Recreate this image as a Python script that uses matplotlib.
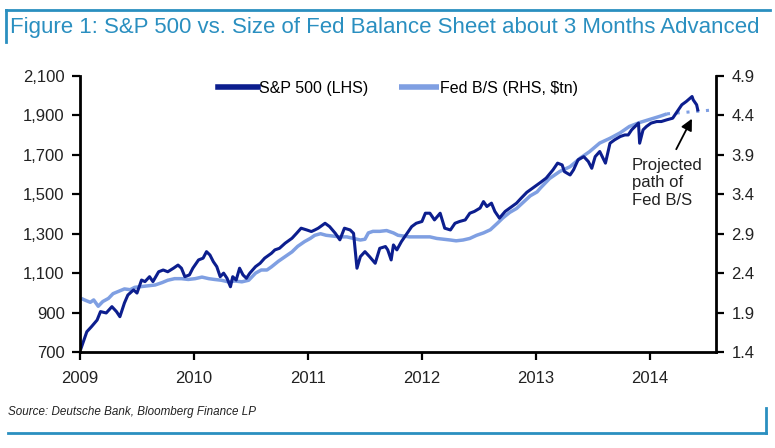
import matplotlib
matplotlib.use("Agg")
import matplotlib.pyplot as plt
from matplotlib.ticker import FuncFormatter, FixedLocator

plt.rcParams['font.family'] = ['Liberation Sans', 'DejaVu Sans']

# S&P 500 (LHS), x in decimal years
sp_x = [2009.01, 2009.06, 2009.10, 2009.15, 2009.18, 2009.23, 2009.28, 2009.32, 2009.35, 2009.39,
        2009.42, 2009.47, 2009.50, 2009.54, 2009.57, 2009.61, 2009.64, 2009.69, 2009.73, 2009.77,
        2009.82, 2009.86, 2009.89, 2009.92, 2009.96, 2009.99, 2010.04, 2010.08, 2010.11, 2010.14,
        2010.17, 2010.20, 2010.23, 2010.26, 2010.29, 2010.32, 2010.34, 2010.37, 2010.40, 2010.43,
        2010.46, 2010.49, 2010.54, 2010.58, 2010.62, 2010.68, 2010.71, 2010.75, 2010.80, 2010.86,
        2010.90, 2010.94, 2010.99, 2011.03, 2011.06, 2011.09, 2011.15, 2011.19, 2011.24, 2011.28,
        2011.32, 2011.37, 2011.40, 2011.43, 2011.46, 2011.50, 2011.54, 2011.59, 2011.63, 2011.68,
        2011.70, 2011.73, 2011.75, 2011.78, 2011.82, 2011.87, 2011.91, 2011.95, 2012.00, 2012.03,
        2012.07, 2012.11, 2012.16, 2012.20, 2012.25, 2012.29, 2012.33, 2012.38, 2012.42, 2012.46,
        2012.51, 2012.54, 2012.57, 2012.61, 2012.64, 2012.68, 2012.73, 2012.77, 2012.83, 2012.87,
        2012.92, 2012.98, 2013.04, 2013.09, 2013.15, 2013.19, 2013.23, 2013.25, 2013.30, 2013.33,
        2013.37, 2013.42, 2013.46, 2013.49, 2013.52, 2013.56, 2013.61, 2013.65, 2013.69, 2013.74,
        2013.78, 2013.81, 2013.84, 2013.87, 2013.90, 2013.91, 2013.94, 2013.97, 2014.01, 2014.06,
        2014.10, 2014.15, 2014.20, 2014.25, 2014.28, 2014.32, 2014.37, 2014.38, 2014.41, 2014.42]
sp_val = [720, 803, 828, 862, 905, 898, 930, 905, 879, 949,
          989, 1015, 999, 1065, 1057, 1082, 1057, 1107, 1116, 1107,
          1125, 1141, 1125, 1082, 1091, 1125, 1167, 1176, 1209, 1192,
          1158, 1133, 1082, 1100, 1074, 1031, 1082, 1065, 1125, 1091,
          1074, 1100, 1133, 1150, 1176, 1201, 1218, 1226, 1252, 1277,
          1302, 1328, 1319, 1311, 1319, 1328, 1353, 1336, 1302, 1269,
          1328, 1319, 1302, 1125, 1184, 1209, 1184, 1150, 1226, 1235,
          1218, 1167, 1243, 1218, 1260, 1302, 1336, 1353, 1362, 1404,
          1404, 1370, 1404, 1328, 1319, 1353, 1362, 1370, 1404, 1413,
          1430, 1463, 1438, 1455, 1413, 1379, 1413, 1430, 1455, 1480,
          1510, 1535, 1560, 1582, 1624, 1658, 1649, 1615, 1598, 1624,
          1675, 1691, 1666, 1632, 1691, 1717, 1658, 1759, 1776, 1793,
          1801, 1801, 1827, 1844, 1861, 1759, 1827, 1844, 1861, 1869,
          1869, 1878, 1886, 1928, 1954, 1971, 1996, 1979, 1954, 1928]

# Fed balance sheet (RHS, $tn), advanced ~3 months
fed_x = [2009.01, 2009.04, 2009.09, 2009.12, 2009.16, 2009.20, 2009.25, 2009.29, 2009.34, 2009.39,
         2009.44, 2009.48, 2009.54, 2009.60, 2009.66, 2009.72, 2009.77, 2009.83, 2009.89, 2009.95,
         2010.01, 2010.07, 2010.13, 2010.18, 2010.24, 2010.30, 2010.36, 2010.42, 2010.48, 2010.54,
         2010.59, 2010.64, 2010.68, 2010.74, 2010.80, 2010.86, 2010.91, 2010.97, 2011.02, 2011.06,
         2011.11, 2011.16, 2011.22, 2011.28, 2011.34, 2011.40, 2011.46, 2011.50, 2011.53, 2011.57,
         2011.63, 2011.69, 2011.75, 2011.79, 2011.84, 2011.89, 2011.95, 2012.01, 2012.07, 2012.13,
         2012.19, 2012.25, 2012.30, 2012.36, 2012.42, 2012.48, 2012.54, 2012.60, 2012.66, 2012.71,
         2012.77, 2012.83, 2012.89, 2012.95, 2013.01, 2013.04, 2013.12, 2013.21, 2013.30, 2013.39,
         2013.47, 2013.56, 2013.65, 2013.74, 2013.82, 2013.91, 2014.00, 2014.09, 2014.15]
fed_val = [2.08, 2.06, 2.03, 2.06, 1.98, 2.04, 2.08, 2.14, 2.17, 2.20,
           2.19, 2.22, 2.23, 2.24, 2.25, 2.28, 2.31, 2.33, 2.33, 2.32,
           2.33, 2.35, 2.33, 2.32, 2.31, 2.29, 2.30, 2.29, 2.31, 2.40,
           2.44, 2.44, 2.48, 2.55, 2.61, 2.67, 2.74, 2.80, 2.84, 2.88,
           2.90, 2.88, 2.87, 2.86, 2.86, 2.84, 2.82, 2.83, 2.91, 2.93,
           2.93, 2.94, 2.91, 2.88, 2.87, 2.86, 2.86, 2.86, 2.86, 2.84,
           2.83, 2.82, 2.81, 2.82, 2.84, 2.88, 2.91, 2.95, 3.03, 3.10,
           3.17, 3.22, 3.30, 3.38, 3.43, 3.48, 3.60, 3.69, 3.75, 3.86,
           3.94, 4.05, 4.11, 4.18, 4.26, 4.31, 4.35, 4.39, 4.42]

# projected Fed B/S path (dotted)
proj_x = [2014.15, 2014.56]
proj_val = [4.42, 4.47]

x_ticks = [2009, 2010, 2011, 2012, 2013, 2014]
left_ticks = [700, 900, 1100, 1300, 1500, 1700, 1900, 2100]
right_ticks = [1.4, 1.9, 2.4, 2.9, 3.4, 3.9, 4.4, 4.9]

dark = '#0c1e8e'
light = '#7f9fe2'
teal = '#2a8fc0'
txt = '#222222'

fig = plt.figure(figsize=(7.75, 4.48), dpi=100)
ax = fig.add_axes([80 / 775, 1 - 352 / 448, 636 / 775, 276 / 448])
ax2 = ax.twinx()
ax.set_zorder(ax2.get_zorder() + 1)
ax.patch.set_visible(False)

l2, = ax2.plot(fed_x, fed_val, color=light, lw=2.5, solid_capstyle='butt')
ax2.plot(proj_x, proj_val, color=light, lw=2.2, ls=(0, (1, 2.2)))
l1, = ax.plot(sp_x, sp_val, color=dark, lw=2.2)

ax.set_xlim(2009, 2014.58)
ax.set_ylim(700, 2100)
ax2.set_ylim(1.4, 4.9)
ax.xaxis.set_major_locator(FixedLocator(x_ticks))
ax.set_xticklabels([str(t) for t in x_ticks])
ax.yaxis.set_major_locator(FixedLocator(left_ticks))
ax.yaxis.set_major_formatter(FuncFormatter(lambda v, p: f'{int(v):,}'))
ax2.yaxis.set_major_locator(FixedLocator(right_ticks))
ax2.yaxis.set_major_formatter(FuncFormatter(lambda v, p: f'{v:.1f}'))

for a in (ax, ax2):
    a.spines['top'].set_visible(False)
    for s in a.spines.values():
        s.set_linewidth(2.0)
ax.spines['right'].set_visible(False)
ax2.spines['left'].set_visible(False)
ax2.spines['bottom'].set_visible(False)

ax.tick_params(axis='y', direction='out', length=6, width=1.6, pad=5, labelsize=12, labelcolor=txt)
ax.tick_params(axis='x', direction='out', length=6, width=1.6, pad=8, labelsize=12, labelcolor=txt)
ax2.tick_params(axis='y', direction='out', length=6, width=1.6, pad=5, labelsize=12, labelcolor=txt)

leg = ax.legend([l1, l2], ['S&P 500 (LHS)', 'Fed B/S (RHS, $tn)'], loc='upper center',
                bbox_to_anchor=(0.5, 1.035), ncol=2, frameon=False, fontsize=11.5,
                handlelength=2.5, handletextpad=0.1, columnspacing=1.9)
for h in leg.legend_handles:
    h.set_linewidth(4)

ax2.annotate('', xy=(2014.38, 4.39), xytext=(2014.22, 3.94),
             arrowprops=dict(arrowstyle='-|>', color='black', lw=1.3, mutation_scale=17))
ax2.text(2013.84, 3.86, 'Projected\npath of\nFed B/S', fontsize=12, va='top', ha='left',
         color=txt, linespacing=1.2)

# title and frame lines
fig.text(10 / 775, 1 - 27 / 448, 'Figure 1: S&P 500 vs. Size of Fed Balance Sheet about 3 Months Advanced',
         color=teal, fontsize=16.0, va='center', ha='left')
fig.add_artist(plt.Line2D([6 / 775, 770 / 775], [1 - 10 / 448, 1 - 10 / 448], color=teal, lw=2))
fig.add_artist(plt.Line2D([6 / 775, 6 / 775], [1 - 10 / 448, 1 - 42 / 448], color=teal, lw=2))
fig.add_artist(plt.Line2D([8 / 775, 766 / 775], [1 - 433 / 448, 1 - 433 / 448], color=teal, lw=2))
fig.add_artist(plt.Line2D([766 / 775, 766 / 775], [1 - 408 / 448, 1 - 433 / 448], color=teal, lw=2))

fig.text(8 / 775, 1 - 412 / 448, 'Source: Deutsche Bank, Bloomberg Finance LP', fontsize=8.4,
         style='italic', color=txt, va='center', ha='left')

fig.savefig('out.png', dpi=100)
